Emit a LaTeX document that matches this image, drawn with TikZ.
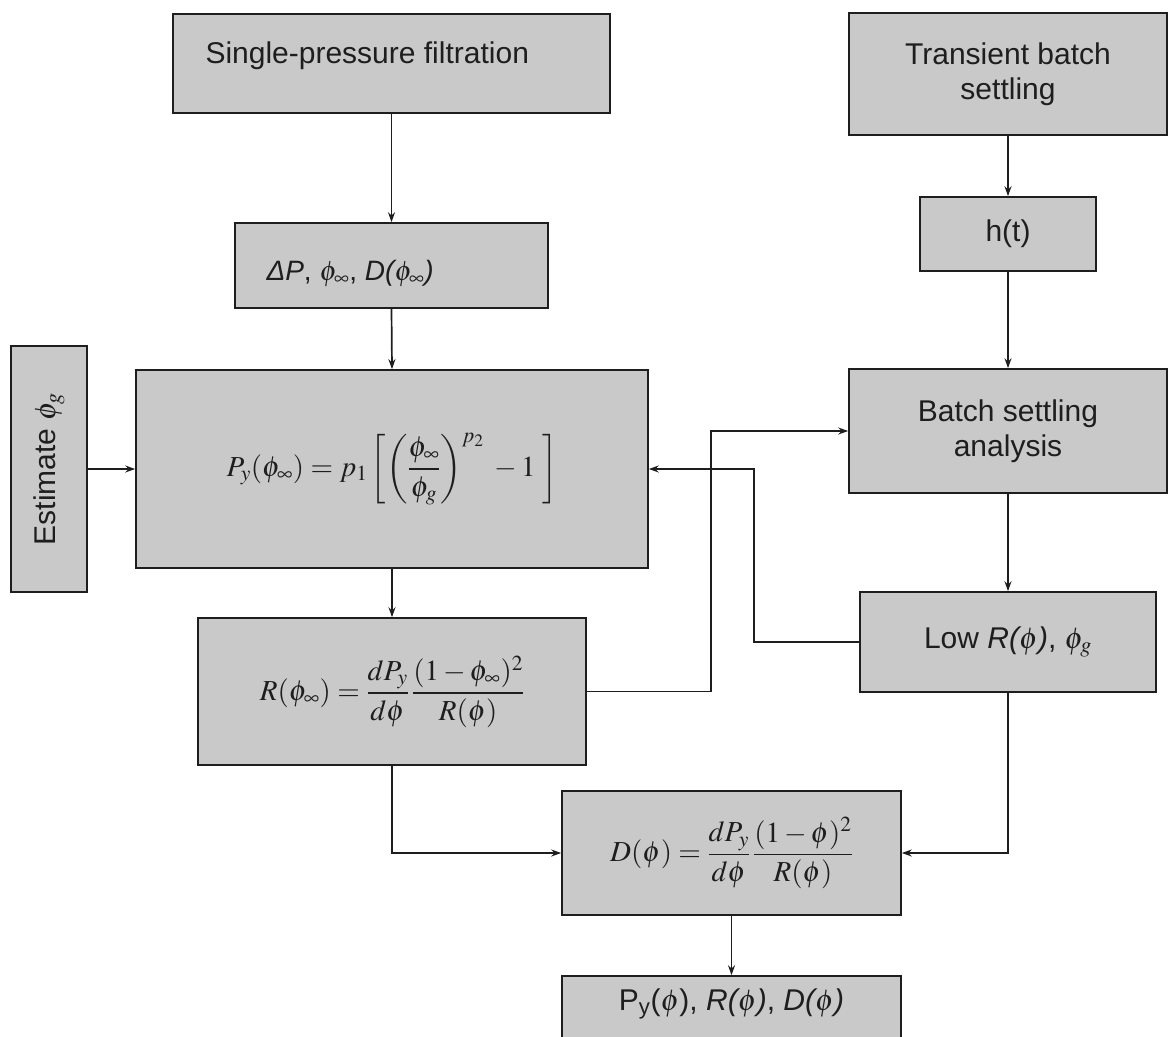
\documentclass[tikz,border=0pt]{standalone}
\usepackage{mathptmx}
\usepackage[no-math]{fontspec}
\setmainfont{Liberation Sans}
\usetikzlibrary{arrows.meta}
\definecolor{boxgray}{RGB}{201,201,201}
\definecolor{ink}{RGB}{30,30,30}
\tikzset{
  box/.style={draw=ink, line width=1.6pt, fill=boxgray, inner sep=0pt, text=ink},
  lbl/.style={font=\fontsize{30}{35}\selectfont, align=center, text=ink},
  eqn/.style={font=\fontsize{29}{35}\selectfont, text=ink},
  arr/.style={draw=ink, line width=1.7pt, -{Stealth[length=10pt,width=7pt]}}
}
\begin{document}
\begin{tikzpicture}[x=1pt,y=-1pt]
\useasboundingbox (0,0) rectangle (1171,1037);
% left column
\node[box, minimum width=437pt, minimum height=99pt] (n1) at (391.5,63.5) {};
\node[lbl, anchor=base west] (t1) at (202,63) {Single-pressure filtration};
\node[box, minimum width=313pt, minimum height=85pt] (dp) at (391.5,265.5) {};
\node[lbl, anchor=base west, font=\fontsize{28}{34}\selectfont] (t2) at (263,280)
  {{\itshape ΔP}, $\phi_{\infty}$, {\itshape D(}$\phi_{\infty}${\itshape )}};
\node[box, minimum width=76pt, minimum height=246pt] (est) at (49,469) {};
\node[lbl, rotate=90] (t3) at (est.center) {Estimate $\phi_g$};
\node[box, eqn, minimum width=512pt, minimum height=198pt] (big) at (392,469)
  {$\displaystyle P_y(\phi_\infty)=p_1\left[\left(\frac{\phi_\infty}{\phi_g}\right)^{p_2}\;-1\;\right]$};
\node[box, eqn, minimum width=388pt, minimum height=147pt] (rbox) at (392,691.5)
  {$\displaystyle R(\phi_\infty)=\frac{dP_y}{d\phi}\,\frac{(1-\phi_\infty)^2}{R(\phi)}$};
% right column
\node[box, lbl, minimum width=318pt, minimum height=122pt] (trans) at (1008,74) {Transient batch\\settling};
\node[box, lbl, minimum width=176pt, minimum height=74pt] (ht) at (1008,234) {h(t)};
\node[box, lbl, minimum width=318pt, minimum height=124pt] (bat) at (1008,431) {Batch settling\\analysis};
\node[box, lbl, minimum width=296pt, minimum height=100pt] (low) at (1008,642)
  {Low {\itshape R(}$\phi${\itshape )}, $\phi_g$};
% bottom
\node[box, eqn, minimum width=339pt, minimum height=124pt] (dbox) at (731.5,853)
  {$\displaystyle D(\phi)=\frac{dP_y}{d\phi}\,\frac{(1-\phi)^2}{R(\phi)}$};
\node[box, minimum width=339pt, minimum height=66pt] (fin) at (731.5,1009) {};
\node[lbl] (t4) at (731.5,1004) {P\textsubscript{y}($\phi$), {\itshape R(}$\phi${\itshape )}, {\itshape D(}$\phi${\itshape )}};
% connectors
\draw[arr] (n1.south) -- (dp.north);
\draw[arr] (dp.south) -- (big.north);
\draw[arr] (est.east) -- (big.west);
\draw[arr] (big.south) -- (rbox.north);
\draw[arr] (trans.south) -- (ht.north);
\draw[arr] (ht.south) -- (bat.north);
\draw[arr] (bat.south) -- (low.north);
\draw[arr] (rbox.east) -- ++(124,0) |- (bat.west);
\draw[arr] (low.west) -- ++(-105,0) |- (big.east);
\draw[arr] (rbox.south) |- (dbox.west);
\draw[arr] (low.south) |- (dbox.east);
\draw[arr] (dbox.south) -- (fin.north);
\end{tikzpicture}
\end{document}
